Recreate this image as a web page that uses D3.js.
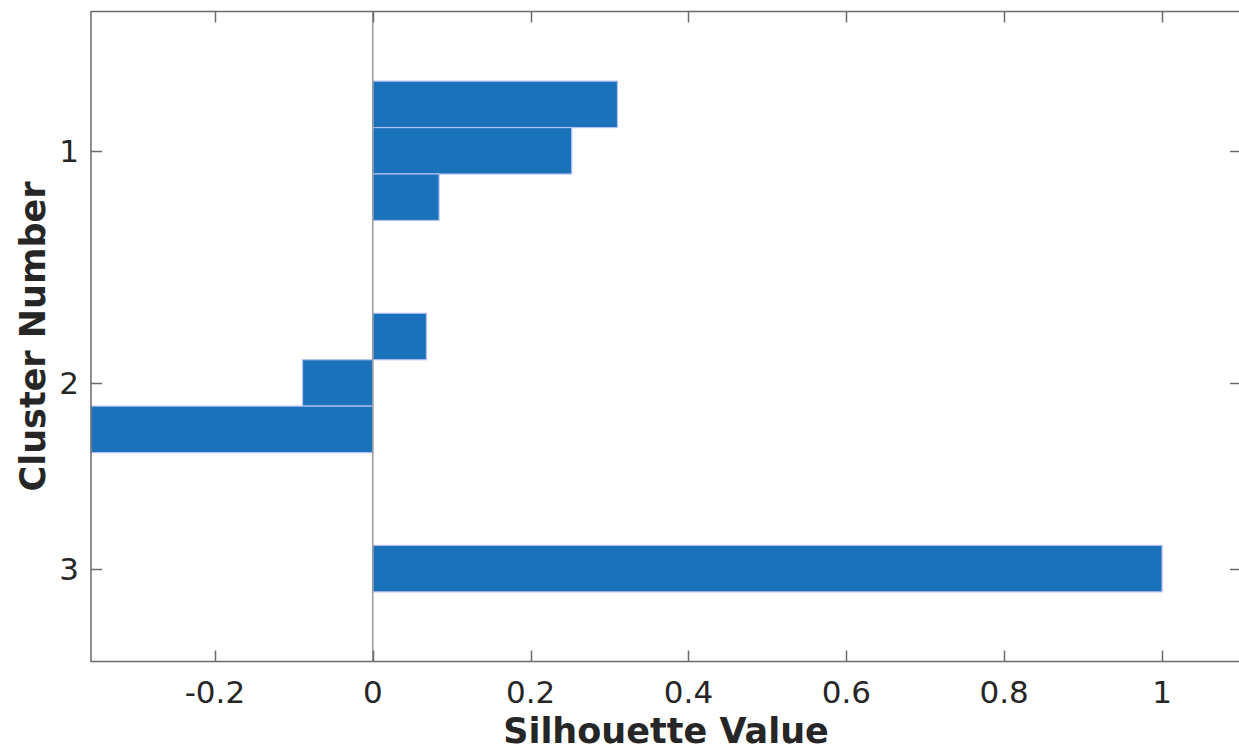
<!DOCTYPE html>
<html>
<head>
<meta charset="utf-8">
<script src="https://cdn.jsdelivr.net/npm/d3@7"></script>
<style>
  html, body { margin: 0; padding: 0; background: #fff; }
  svg { display: block; }
  text { font-family: "DejaVu Sans", sans-serif; fill: #262626; }
</style>
</head>
<body>
<svg id="chart" width="1239" height="751"></svg>
<script>
// Silhouette values per point, grouped by cluster (sorted descending within each cluster)
const clusterIds = [1, 2, 3];
const cluster1Values = [0.310, 0.252, 0.084];
const cluster2Values = [0.068, -0.089, -0.357];
const cluster3Values = [1.0];
const xTickValues = [-0.2, 0, 0.2, 0.4, 0.6, 0.8, 1];
const xTickLabels = ["-0.2", "0", "0.2", "0.4", "0.6", "0.8", "1"];
const xLabel = "Silhouette Value";
const yLabel = "Cluster Number";

const groups = [cluster1Values, cluster2Values, cluster3Values];

// Stack bars top to bottom, leaving a gap of two slots between clusters
const bars = [];
const clusterCenters = [];
let slot = 1;
groups.forEach((vals, gi) => {
  const slots = [];
  vals.forEach(v => { bars.push({ cluster: clusterIds[gi], value: v, pos: slot }); slots.push(slot); slot++; });
  clusterCenters.push({ id: clusterIds[gi], pos: d3.mean(slots) });
  if (gi < groups.length - 1) slot += 2;
});
const lastSlot = slot - 1;

const allValues = bars.map(b => b.value);
const xMin = d3.min(allValues);
const xMax = 1.1;

const plot = { left: 91, top: 11.5, right: 1241, bottom: 661.5 };

const x = d3.scaleLinear().domain([xMin, xMax]).range([plot.left, plot.right]);
const y = d3.scaleLinear().domain([-1, lastSlot + 2]).range([plot.top, plot.bottom]);

const svg = d3.select("#chart");

// Bars
svg.append("g").selectAll("rect").data(bars).join("rect")
  .attr("x", d => x(Math.min(0, d.value)))
  .attr("width", d => Math.abs(x(d.value) - x(0)))
  .attr("y", d => y(d.pos - 0.5))
  .attr("height", d => y(d.pos + 0.5) - y(d.pos - 0.5))
  .attr("fill", "#1a72bb")
  .attr("stroke", "#b3bff2")
  .attr("stroke-width", 1.2);

// Zero baseline
svg.append("line")
  .attr("x1", x(0)).attr("x2", x(0))
  .attr("y1", plot.top).attr("y2", plot.bottom)
  .attr("stroke", "#9a9a9a").attr("stroke-width", 1.5);

// Axes box
const axisColor = "#6b6b6b";
const tickLen = 11;
const frame = svg.append("g").attr("stroke", axisColor).attr("stroke-width", 1.5).attr("fill", "none");
frame.append("path")
  .attr("d", `M${plot.left},${plot.top}H${plot.right}V${plot.bottom}H${plot.left}Z`);

// X ticks (bottom and top, pointing inward)
xTickValues.forEach(v => {
  const px = Math.round(x(v)) + 0.5;
  frame.append("line").attr("x1", px).attr("x2", px).attr("y1", plot.bottom).attr("y2", plot.bottom - tickLen);
  frame.append("line").attr("x1", px).attr("x2", px).attr("y1", plot.top).attr("y2", plot.top + tickLen);
});

// Y ticks (left and right, pointing inward)
clusterCenters.forEach(c => {
  const py = Math.round(y(c.pos)) + 0.5;
  frame.append("line").attr("x1", plot.left).attr("x2", plot.left + tickLen).attr("y1", py).attr("y2", py);
  frame.append("line").attr("x1", plot.right).attr("x2", plot.right - tickLen).attr("y1", py).attr("y2", py);
});

// X tick labels
svg.append("g").selectAll("text").data(xTickValues).join("text")
  .attr("x", d => x(d))
  .attr("y", 703)
  .attr("text-anchor", "middle")
  .attr("font-size", 31)
  .text((d, i) => xTickLabels[i]);

// Y tick labels
svg.append("g").selectAll("text").data(clusterCenters).join("text")
  .attr("x", 79)
  .attr("y", d => y(d.pos))
  .attr("dy", "0.36em")
  .attr("text-anchor", "end")
  .attr("font-size", 31)
  .text(d => d.id);

// Axis titles
svg.append("text")
  .attr("x", (plot.left + plot.right) / 2)
  .attr("y", 743)
  .attr("text-anchor", "middle")
  .attr("font-size", 35)
  .attr("font-weight", "bold")
  .text(xLabel);

svg.append("text")
  .attr("transform", `translate(45,${(plot.top + plot.bottom) / 2}) rotate(-90)`)
  .attr("text-anchor", "middle")
  .attr("font-size", 35)
  .attr("font-weight", "bold")
  .text(yLabel);
</script>
</body>
</html>
